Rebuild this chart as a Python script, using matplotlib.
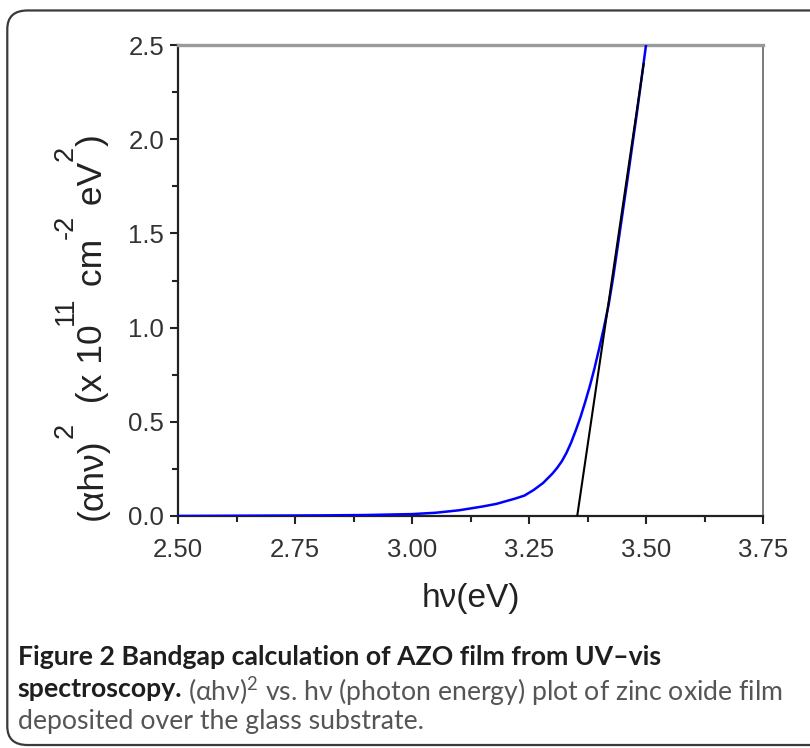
"""Bandgap (Tauc) plot of AZO film, recreated from the paper figure."""

import matplotlib
matplotlib.use('Agg')
import matplotlib.pyplot as plt
from matplotlib.patches import FancyBboxPatch
from matplotlib.ticker import MultipleLocator, FormatStrFormatter
from matplotlib.transforms import IdentityTransform

plt.rcParams['font.family'] = ['Liberation Sans', 'DejaVu Sans']
plt.rcParams['mathtext.fontset'] = 'custom'
plt.rcParams['mathtext.rm'] = 'Lato'
plt.rcParams['mathtext.default'] = 'regular'

# (alpha h nu)^2 curve, x 10^11 cm^-2 eV^2
photon_energy = [2.50, 2.60, 2.70, 2.80, 2.90, 3.00, 3.05, 3.10, 3.15, 3.18,
                 3.20, 3.22, 3.24, 3.26, 3.28, 3.30, 3.31, 3.32, 3.33, 3.34,
                 3.35, 3.36, 3.37, 3.38, 3.39, 3.40, 3.41, 3.42, 3.43, 3.44,
                 3.46, 3.48, 3.50]
ahv_sq = [0.0, 0.001, 0.002, 0.003, 0.005, 0.010, 0.017, 0.030, 0.050, 0.064,
          0.078, 0.092, 0.108, 0.138, 0.175, 0.225, 0.255, 0.290, 0.335, 0.390,
          0.455, 0.525, 0.605, 0.690, 0.785, 0.890, 1.000, 1.120, 1.270, 1.440,
          1.780, 2.130, 2.500]

# linear extrapolation to the energy axis (band gap ~3.35 eV)
fit_x = [3.353, 3.495]
fit_y = [0.0, 2.40]

# y label pieces: (text, is_superscript)
ylabel_parts = [('(\u03b1h\u03bd)', False), ('2', True), ('  (x 10', False),
                ('11', True), (' cm', False), ('-2', True), (' eV', False),
                ('2', True), (')', False)]

W, H = 810, 748
fig = plt.figure(figsize=(W / 100, H / 100), dpi=100)

# rounded caption frame, open on the right like the page crop
frame = FancyBboxPatch((0.009, 0.004), 1.2, 0.982,
                       boxstyle='round,pad=0,rounding_size=0.025',
                       transform=fig.transFigure, fill=False,
                       edgecolor='#3a3a3a', linewidth=1.6, clip_on=False)
fig.patches.append(frame)

ax = fig.add_axes([0.2198, 0.3102, 0.7222, 0.6296])
ax.plot(photon_energy, ahv_sq, color='#0000ff', linewidth=1.8, zorder=3)
ax.plot(fit_x, fit_y, color='black', linewidth=1.5, zorder=4)

ax.set_xlim(2.50, 3.75)
ax.set_ylim(0.0, 2.5)
ax.xaxis.set_major_locator(MultipleLocator(0.25))
ax.xaxis.set_minor_locator(MultipleLocator(0.125))
ax.yaxis.set_major_locator(MultipleLocator(0.5))
ax.yaxis.set_minor_locator(MultipleLocator(0.25))
ax.xaxis.set_major_formatter(FormatStrFormatter('%.2f'))
ax.yaxis.set_major_formatter(FormatStrFormatter('%.1f'))

ax.tick_params(which='both', direction='out', top=False, right=False,
               width=1.5, color='#222222', labelsize=18.5, labelcolor='#333333')
ax.tick_params(axis='x', which='major', length=6, pad=10)
ax.tick_params(axis='y', which='major', length=6, pad=4)
ax.tick_params(which='minor', length=4)

for side in ('left', 'bottom'):
    ax.spines[side].set_color('#222222')
    ax.spines[side].set_linewidth(1.6)
ax.spines['top'].set_color('#9a9a9a')
ax.spines['top'].set_linewidth(2.4)
ax.spines['right'].set_color('#7a7a7a')
ax.spines['right'].set_linewidth(1.4)

ax.set_xlabel('h\u03bd(eV)', fontsize=24, color='#222222', labelpad=15)

# y label built piece by piece so the superscripts sit high, as in the original
renderer = fig.canvas.get_renderer()
base_x, y_pos = 102, H - 520
for txt, sup in ylabel_parts:
    t = fig.text(base_x - (29 if sup else 0), y_pos, txt,
                 fontsize=19.5 if sup else 25.5, color='#222222',
                 rotation=90, rotation_mode='anchor', ha='left', va='baseline',
                 transform=IdentityTransform())
    y_pos = t.get_window_extent(renderer).y1

# caption
cap_kw = dict(fontsize=19.2, family=['Lato', 'DejaVu Sans'])
fig.text(0.022, 0.111, 'Figure 2 Bandgap calculation of AZO film from UV\u2013vis',
         fontweight='bold', color='#1e1e1e', va='baseline', **cap_kw)
t1 = fig.text(0.022, 0.068, 'spectroscopy.', fontweight='bold',
              color='#1e1e1e', va='baseline', **cap_kw)
ax.annotate('(\u03b1h\u03bd)$^2$ vs. h\u03bd (photon energy) plot of zinc oxide film',
            xy=(1, 0), xycoords=t1, xytext=(4, 0), textcoords='offset points',
            va='baseline', color='#555555', annotation_clip=False, **cap_kw)
fig.text(0.022, 0.025, 'deposited over the glass substrate.',
         color='#555555', va='baseline', **cap_kw)

fig.savefig('out.png', dpi=100)
